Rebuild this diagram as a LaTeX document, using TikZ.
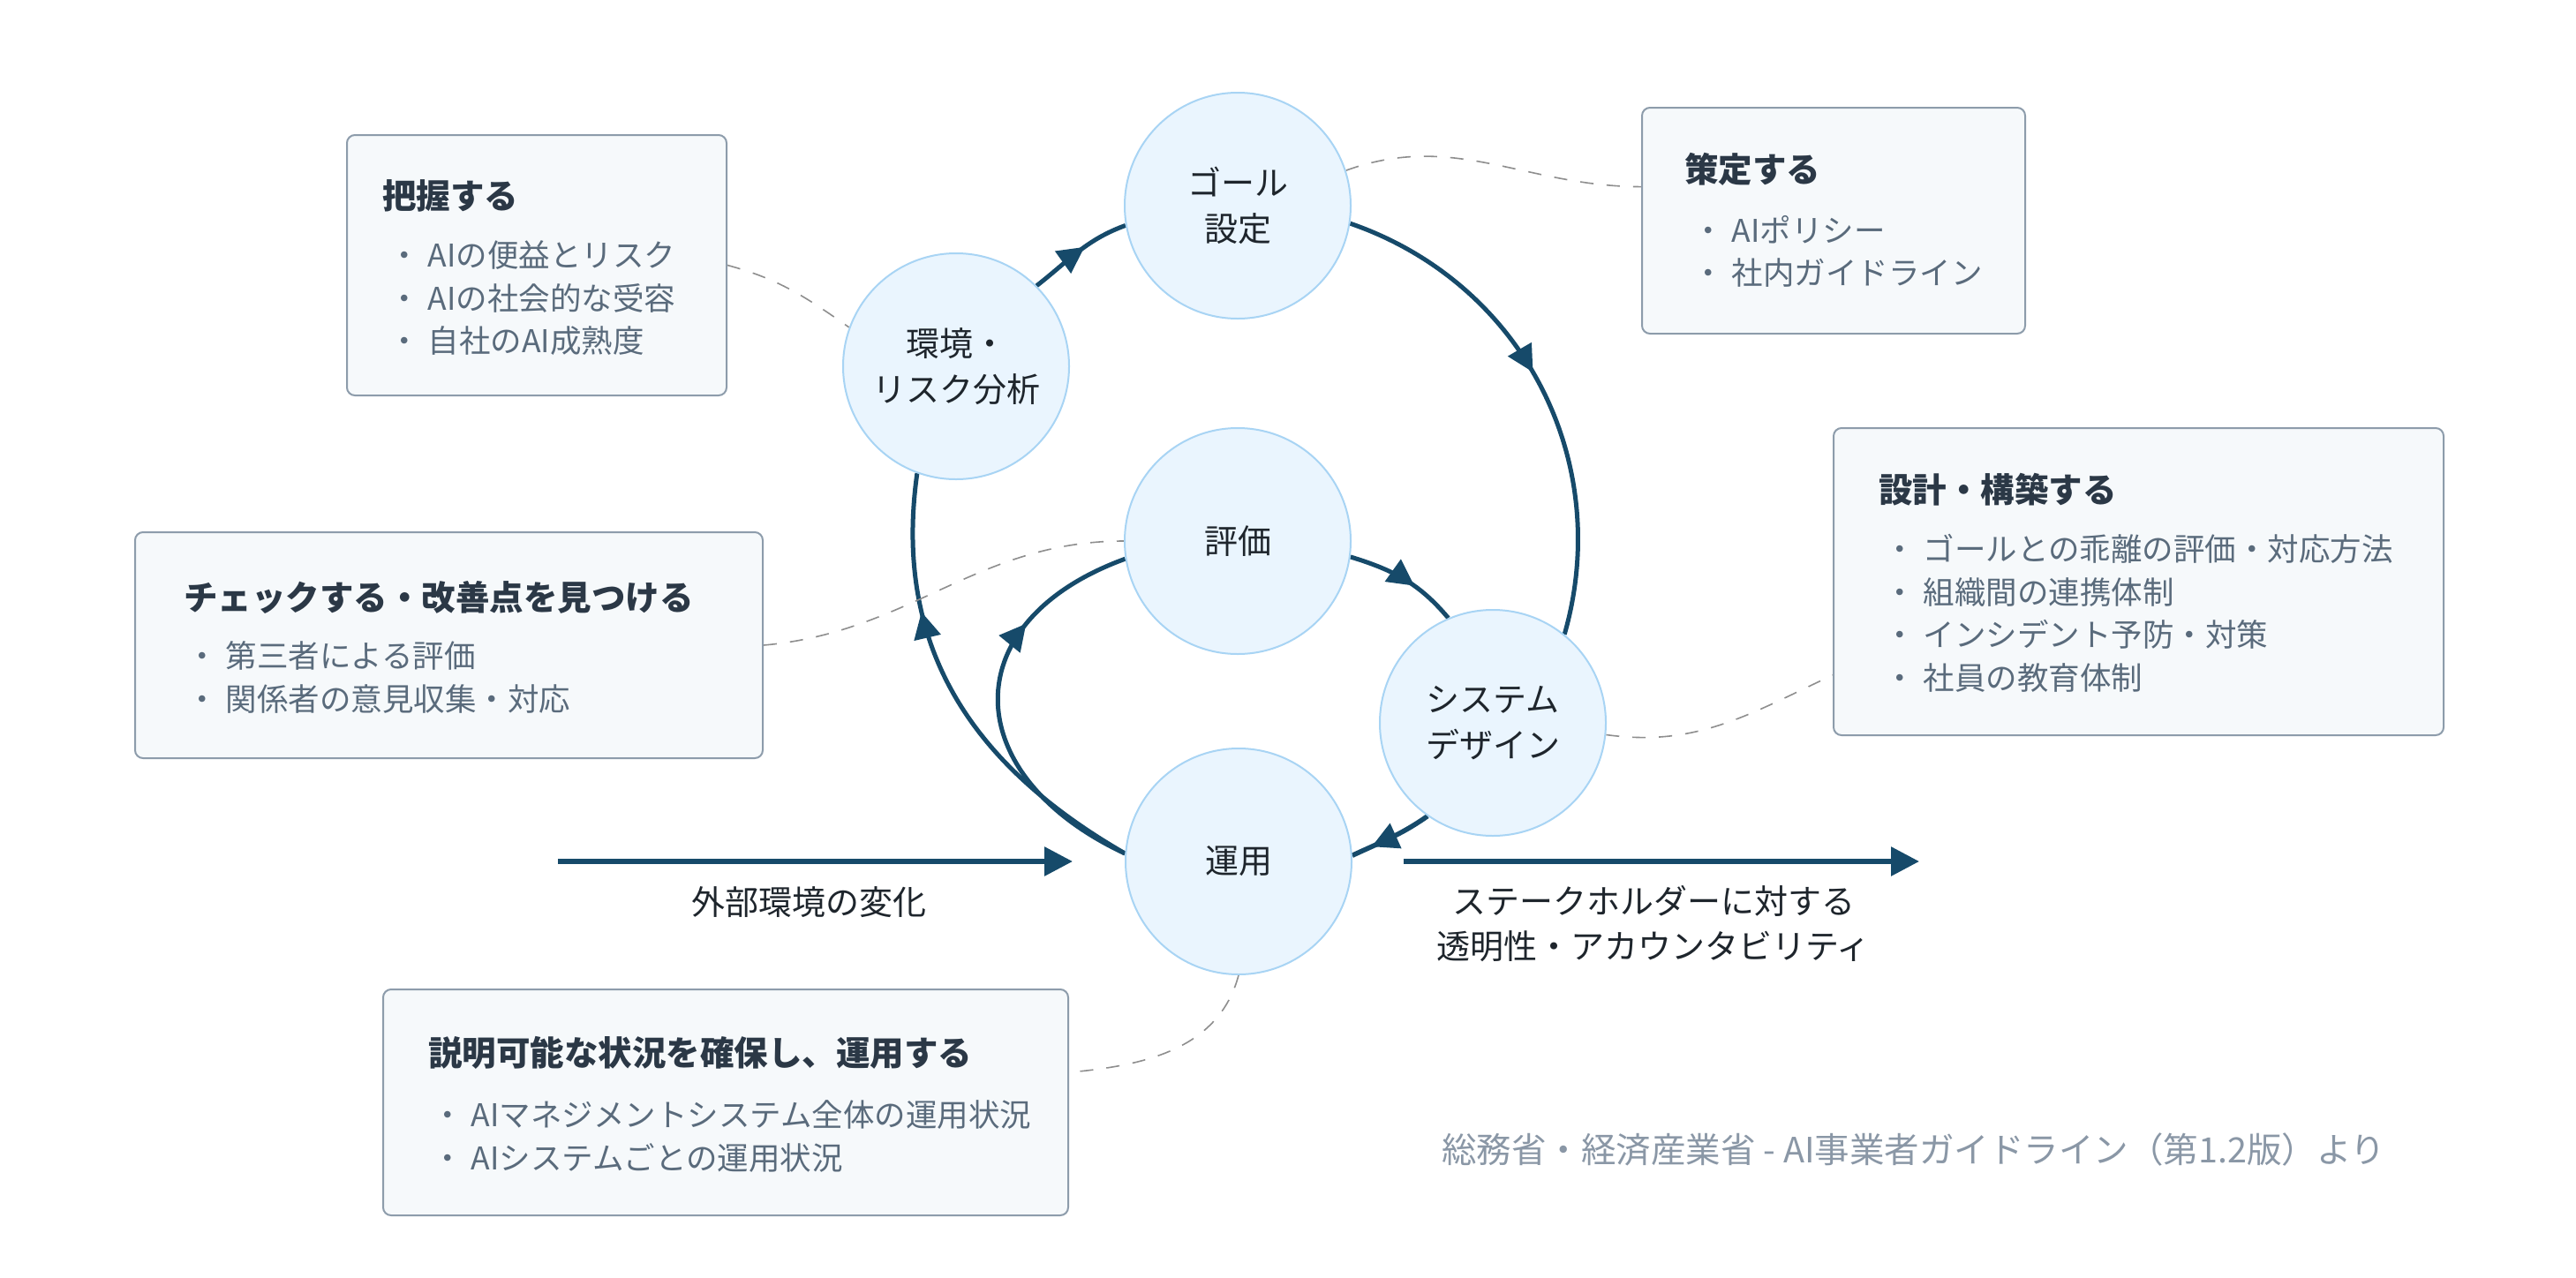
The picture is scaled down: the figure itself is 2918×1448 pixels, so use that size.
\documentclass[tikz,border=0pt]{standalone}
\usepackage{fontspec}
\setmainfont{Noto Sans CJK JP}
\usetikzlibrary{arrows.meta,decorations.markings}
\definecolor{flowc}{HTML}{164A6A}
\definecolor{circfill}{HTML}{EAF5FE}
\definecolor{circline}{HTML}{A8D4F4}
\definecolor{boxfill}{HTML}{F6F9FB}
\definecolor{boxline}{HTML}{8D9CAB}
\definecolor{ttlc}{HTML}{2B3846}
\definecolor{itmc}{HTML}{5A6B7C}
\definecolor{dashc}{HTML}{8E8E8E}
\definecolor{footc}{HTML}{8A97A6}
\definecolor{lblc}{HTML}{1E252C}
\pgfdeclarelayer{paper}
\pgfdeclarelayer{background}
\pgfsetlayers{paper,background,main}
\newcommand{\itemdot}{・\hspace{9pt}}
\tikzset{
 stage/.style={circle, draw=circline, line width=2pt, fill=circfill, minimum size=256pt, inner sep=0pt, align=center, text=lblc, font=\fontsize{38}{52}\selectfont},
 infobox/.style={draw=boxline, fill=boxfill, line width=2pt, rounded corners=9pt, inner sep=0pt},
 ttl/.style={anchor=west, inner sep=0pt, text=ttlc, font=\fontsize{38.5}{46}\selectfont\bfseries},
 itm/.style={anchor=west, inner sep=0pt, text=itmc, align=left, font=\fontsize{35.5}{48.5}\selectfont},
 flow/.style={draw=flowc, line width=5pt},
 tipat/.style={postaction={decorate}, decoration={markings, mark=at position #1 with {\arrow{Triangle[length=30pt,width=30pt]}}}},
 link/.style={draw=dashc, line width=1.6pt, dash pattern=on 15pt off 15pt},
 lbl/.style={inner sep=0pt, text=lblc, align=center, font=\fontsize{38}{51}\selectfont},
 foot/.style={inner sep=0pt, text=footc, font=\fontsize{39.5}{46}\selectfont},
}
\begin{document}
\begin{tikzpicture}[x=1pt,y=1pt]
\useasboundingbox (0,0) rectangle (2918,-1448);
\begin{pgfonlayer}{paper}
\fill[white] (0,0) rectangle (2918,-1448);
\end{pgfonlayer}

% stages
\node[stage] (goal) at (1402,-233) {ゴール\\設定};
\node[stage] (env) at (1083,-415) {環境・\\リスク分析};
\node[stage] (eval) at (1402,-613) {評価};
\node[stage] (sys) at (1691,-819) {システム\\デザイン};
\node[stage] (ops) at (1403,-976) {運用};

% boxes
\node[infobox, minimum width=430pt, minimum height=295pt] (b1) at (608,-300.5) {};
\node[ttl] (b1t) at (433,-222) {把握する};
\node[itm] (b1i) at (440,-338) {\itemdot AIの便益とリスク\\\itemdot AIの社会的な受容\\\itemdot 自社のAI成熟度};

\node[infobox, minimum width=434pt, minimum height=256pt] (b2) at (2077,-250) {};
\node[ttl] (b2t) at (1908,-192) {策定する};
\node[itm] (b2i) at (1917,-285) {\itemdot AIポリシー\\\itemdot 社内ガイドライン};

\node[infobox, minimum width=711pt, minimum height=256pt] (b3) at (508.5,-731) {};
\node[ttl] (b3t) at (208,-677) {チェックする・改善点を見つける};
\node[itm] (b3i) at (211,-767.5) {\itemdot 第三者による評価\\\itemdot 関係者の意見収集・対応};

\node[infobox, minimum width=691pt, minimum height=348pt] (b4) at (2422.5,-659) {};
\node[ttl] (b4t) at (2128,-555) {設計・構築する};
\node[itm] (b4i) at (2134,-695) {\itemdot ゴールとの乖離の評価・対応方法\\\itemdot 組織間の連携体制\\\itemdot インシデント予防・対策\\\itemdot 社員の教育体制};

\node[infobox, minimum width=776pt, minimum height=256pt] (b5) at (822,-1249) {};
\node[ttl] (b5t) at (485,-1193) {説明可能な状況を確保し、運用する};
\node[itm] (b5i) at (489,-1287.5) {\itemdot AIマネジメントシステム全体の運用状況\\\itemdot AIシステムごとの運用状況};

% labels
\coordinate (inL) at (632,-976);
\coordinate (outR) at (2174,-976);
\node[lbl] (chg) at (916,-1022) {外部環境の変化};
\node[lbl] (acc) at (1873,-1047) {ステークホルダーに対する\\透明性・アカウンタビリティ};
\node[foot, anchor=west] (src) at (1633,-1302) {総務省・経済産業省 - AI事業者ガイドライン（第1.2版）より};

\begin{pgfonlayer}{background}
% outer cycle
\draw[flow, tipat=0.57] (env.45) to[out=38, in=200] (goal.190);
\draw[flow, tipat=0.47] (goal.-9) to[out=-19, in=74] (sys.51);
\draw[flow, line width=5.5pt, tipat=0.75] (sys.235) to[out=215, in=25] (ops.3);
\draw[flow, tipat=0.70] (ops.176) to[out=150, in=262, looseness=1.04] (env.250);
% inner cycle
\draw[flow, tipat=0.71] (ops.176) to[out=155, in=200, looseness=1.6] (eval.189);
\draw[flow, tipat=0.6] (eval.-8.5) to[out=-17, in=130] (sys.113);
% external arrows
\draw[flow, line width=6pt, -{Triangle[length=32pt,width=32pt]}, shorten >=59pt] (inL) -- (ops.west);
\draw[flow, line width=6pt, -{Triangle[length=32pt,width=32pt]}, shorten <=58pt] (ops.east) -- (outR);
% dashed links
\draw[link] (b1.east) to[out=-15, in=145] (env.160);
\draw[link] (goal.18) to[out=20, in=180] (b2.170);
\draw[link] (b3.east) to[out=5, in=180] (eval.west);
\draw[link] (sys.-6) to[out=-8, in=205] (b4.197);
\draw[link] (ops.south) to[out=-105, in=5] (b5.5);
\end{pgfonlayer}
\end{tikzpicture}
\end{document}
